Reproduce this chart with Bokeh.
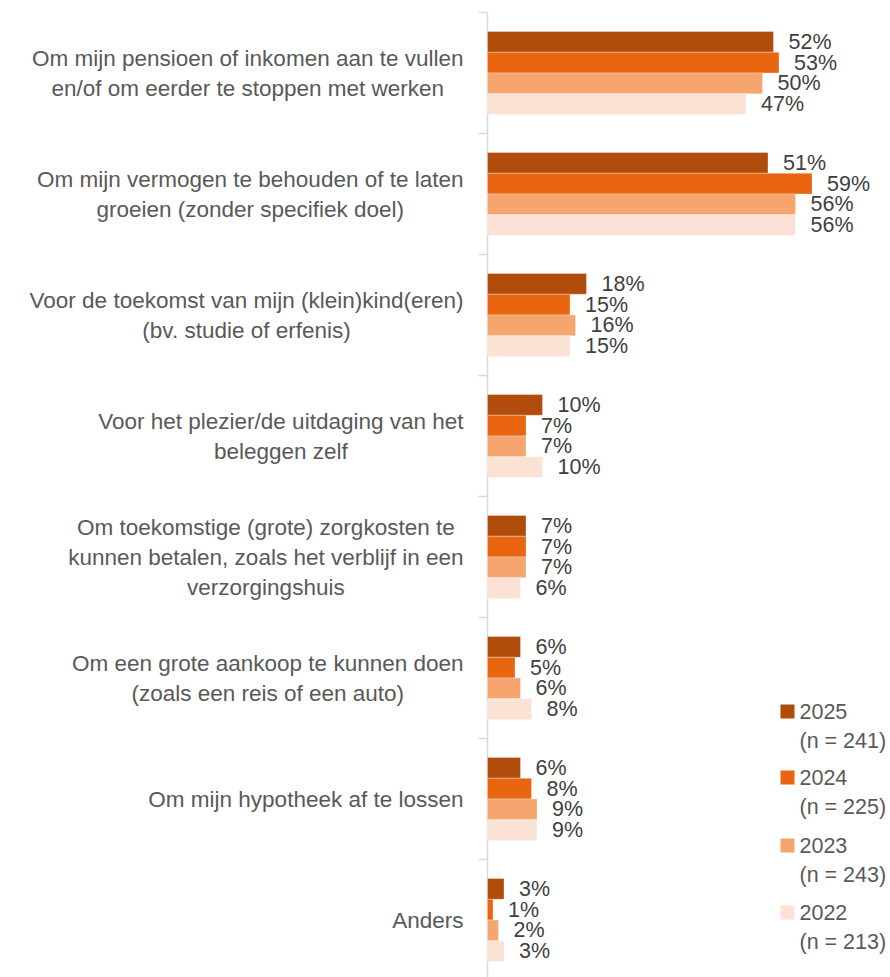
from bokeh.plotting import figure
from bokeh.models import Range1d, ColumnDataSource
from bokeh.transform import dodge
from bokeh.core.properties import value
from bokeh.embed import file_html
from bokeh.resources import INLINE

# ---------------- data ----------------
categories = [
    "Om mijn pensioen of inkomen aan te vullen\nen/of om eerder te stoppen met werken",
    "Om mijn vermogen te behouden of te laten\ngroeien (zonder specifiek doel)",
    "Voor de toekomst van mijn (klein)kind(eren)\n(bv. studie of erfenis)",
    "Voor het plezier/de uitdaging van het\nbeleggen zelf",
    "Om toekomstige (grote) zorgkosten te\nkunnen betalen, zoals het verblijf in een\nverzorgingshuis",
    "Om een grote aankoop te kunnen doen\n(zoals een reis of een auto)",
    "Om mijn hypotheek af te lossen",
    "Anders",
]
years = ["2025", "2024", "2023", "2022"]
sample_sizes = ["(n = 241)", "(n = 225)", "(n = 243)", "(n = 213)"]
v2025 = [52, 51, 18, 10, 7, 6, 6, 3]
v2024 = [53, 59, 15, 7, 7, 5, 8, 1]
v2023 = [50, 56, 16, 7, 7, 6, 9, 2]
v2022 = [47, 56, 15, 10, 6, 8, 9, 3]
series = [v2025, v2024, v2023, v2022]
colors = ["#B04D0C", "#E9650F", "#F6A56F", "#FBE2D5"]

# ---------------- layout ----------------
W, H = 890, 977
PX_PER_PCT = 5.5
AXIS_PX = 487              # axis position inside the figure
CAT_PX = 121               # pixels per category
TOP_PX = 72.5              # centre of first category inside figure

def dx(px):
    return (px - AXIS_PX) / PX_PER_PCT

def dy(py):
    return -(py - TOP_PX) / CAT_PX

FONT = "Liberation Sans"
FS = "22.5px"
VFS = "21.5px"

p = figure(width=W, height=H, output_backend="svg", toolbar_location=None,
           x_range=Range1d(dx(0), dx(W)), y_range=Range1d(dy(H), dy(0)),
           min_border=0, x_axis_location=None, y_axis_location=None)
p.outline_line_color = None
p.xgrid.visible = False
p.ygrid.visible = False
p.background_fill_color = "white"
p.border_fill_color = "white"

ypos = [-i for i in range(len(categories))]

# axis line and tick marks
bounds = [0.5 - k for k in range(len(categories) + 1)]
p.segment(x0=[0], y0=[bounds[0]], x1=[0], y1=[dy(H) - 1], line_color="#D9D9D9", line_width=1.5)
p.segment(x0=[dx(AXIS_PX - 9)] * len(bounds), y0=bounds, x1=[0] * len(bounds), y1=bounds,
          line_color="#D9D9D9", line_width=1.5)

bar_h = 20.75 / CAT_PX
offsets = [1.5 * bar_h, 0.5 * bar_h, -0.5 * bar_h, -1.5 * bar_h]

for vals, col, off in zip(series, colors, offsets):
    src = ColumnDataSource(dict(y=ypos, v=vals, lab=[f"{v}%" for v in vals]))
    p.hbar(y=dodge("y", off, range=p.y_range), left=0, right="v", height=bar_h,
           source=src, fill_color=col, line_color="white", line_width=0.6, line_alpha=0.5)
    p.text(x="v", y=dodge("y", off, range=p.y_range), text="lab", source=src,
           x_offset=15, text_baseline="middle", text_align="left",
           text_font=value(FONT), text_font_size=VFS, text_color="#404040")

# category labels (block right-aligned, lines centred)
csrc = ColumnDataSource(dict(x=[0] * len(categories), y=ypos, t=categories))
p.text(x="x", y="y", text="t", source=csrc, x_offset=-24,
       anchor=value("center_right"), text_align="center", text_baseline="middle",
       text_line_height=1.2, text_font=value(FONT), text_font_size=FS,
       text_color="#595959")

# legend
leg_y = [711, 777, 845, 912]
p.scatter(x=[dx(787)] * 4, y=[dy(y) for y in leg_y], marker="square", size=14,
          fill_color=colors, line_color=None)
p.text(x=[dx(799)] * 4, y=[dy(y) for y in leg_y], text=years,
       text_baseline="middle", text_font=value(FONT), text_font_size=VFS, text_color="#595959")
p.text(x=[dx(799)] * 4, y=[dy(y + 29) for y in leg_y], text=sample_sizes,
       text_baseline="middle", text_font=value(FONT), text_font_size=VFS, text_color="#595959")

open("out.html", "w").write(file_html(p, INLINE))
